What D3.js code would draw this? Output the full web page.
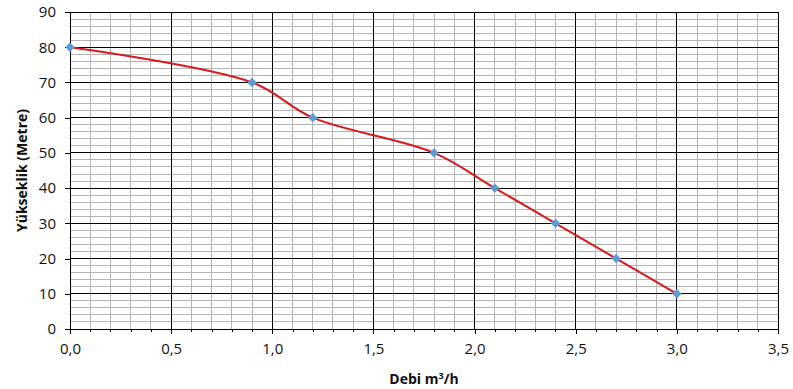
<!DOCTYPE html>
<html>
<head>
<meta charset="utf-8">
<script src="https://cdn.jsdelivr.net/npm/d3@7"></script>
<style>
  body { margin: 0; background: #fff; }
  text { font-family: "Open Sans", "Liberation Sans", sans-serif; }
</style>
</head>
<body>
<div id="wrapper"></div>
<script>
const debi = [0, 0.9, 1.2, 1.8, 2.1, 2.4, 2.7, 3.0];
const yukseklik = [80, 70, 60, 50, 40, 30, 20, 10];
const xTicks = [0, 0.5, 1.0, 1.5, 2.0, 2.5, 3.0, 3.5];
const yTicks = [0, 10, 20, 30, 40, 50, 60, 70, 80, 90];

const dimensions = {
    width: 793,
    height: 389,
    margin: { top: 12, right: 15, bottom: 60, left: 70 }
};
dimensions.boundedWidth = dimensions.width - dimensions.margin.left - dimensions.margin.right;
dimensions.boundedHeight = dimensions.height - dimensions.margin.top - dimensions.margin.bottom;

const svg = d3.select("#wrapper").append("svg")
    .attr("width", dimensions.width)
    .attr("height", dimensions.height);

const bounds = svg.append("g")
    .attr("transform", `translate(${dimensions.margin.left},${dimensions.margin.top})`);

const xScale = d3.scaleLinear().domain([0, 3.5]).range([0, dimensions.boundedWidth]);
const yScale = d3.scaleLinear().domain([0, 90]).range([dimensions.boundedHeight, 0]);

const fmt = d => d3.format(".1f")(d).replace(".", ",");

// minor grid
const xMinor = d3.range(0, 3.5001, 0.1);
const yMinor = d3.range(0, 90.001, 2);
bounds.append("g").selectAll("line").data(xMinor).join("line")
    .attr("x1", d => xScale(d)).attr("x2", d => xScale(d))
    .attr("y1", 0).attr("y2", dimensions.boundedHeight)
    .attr("stroke", "#b4b4b4").attr("stroke-width", 1).attr("shape-rendering", "crispEdges");
bounds.append("g").selectAll("line").data(yMinor).join("line")
    .attr("y1", d => yScale(d)).attr("y2", d => yScale(d))
    .attr("x1", 0).attr("x2", dimensions.boundedWidth)
    .attr("stroke", "#b4b4b4").attr("stroke-width", 1).attr("shape-rendering", "crispEdges");

// major grid
bounds.append("g").selectAll("line").data(xTicks).join("line")
    .attr("x1", d => xScale(d)).attr("x2", d => xScale(d))
    .attr("y1", 0).attr("y2", dimensions.boundedHeight)
    .attr("stroke", "#000").attr("stroke-width", 1).attr("shape-rendering", "crispEdges");
bounds.append("g").selectAll("line").data(yTicks).join("line")
    .attr("y1", d => yScale(d)).attr("y2", d => yScale(d))
    .attr("x1", 0).attr("x2", dimensions.boundedWidth)
    .attr("stroke", "#000").attr("stroke-width", 1).attr("shape-rendering", "crispEdges");

// axes
const xAxis = bounds.append("g")
    .attr("transform", `translate(0,${dimensions.boundedHeight})`)
    .call(d3.axisBottom(xScale).tickValues(xTicks).tickFormat(fmt).tickSize(5).tickPadding(9));
bounds.append("g")
    .attr("transform", `translate(0,${dimensions.boundedHeight})`)
    .call(d3.axisBottom(xScale).tickValues(xMinor).tickFormat("").tickSize(3))
    .select(".domain").remove();
const yAxis = bounds.append("g")
    .call(d3.axisLeft(yScale).tickValues(yTicks).tickSize(5).tickPadding(9));

[xAxis, yAxis].forEach(a => {
    a.select(".domain").attr("stroke", "#000");
    a.selectAll("text").attr("font-size", 15).attr("fill", "#111");
});
bounds.selectAll(".tick line").attr("stroke", "#000").attr("shape-rendering", "crispEdges");

// curve
const points = debi.map((d, i) => [d, yukseklik[i]]);
const line = d3.line()
    .x(d => xScale(d[0]))
    .y(d => yScale(d[1]))
    .curve(d3.curveCatmullRom.alpha(0.5));

bounds.append("path")
    .datum(points)
    .attr("d", line)
    .attr("fill", "none")
    .attr("stroke", "#d9191b")
    .attr("stroke-width", 2);

bounds.append("g").selectAll("path").data(points).join("path")
    .attr("transform", d => `translate(${xScale(d[0])},${yScale(d[1])}) rotate(45)`)
    .attr("d", d3.symbol(d3.symbolSquare, 44)())
    .attr("fill", "#5b9bd5");

// titles
svg.append("text")
    .attr("x", dimensions.margin.left + dimensions.boundedWidth / 2)
    .attr("y", 384)
    .attr("text-anchor", "middle")
    .attr("font-size", 14)
    .attr("font-weight", "bold")
    .attr("fill", "#111")
    .html('Debi m<tspan dy="-5" font-size="9">3</tspan><tspan dy="5">/h</tspan>');

svg.append("text")
    .attr("transform", `translate(27,${dimensions.margin.top + dimensions.boundedHeight / 2}) rotate(-90)`)
    .attr("text-anchor", "middle")
    .attr("font-size", 14)
    .attr("font-weight", "bold")
    .attr("fill", "#111")
    .text("Yükseklik (Metre)");
</script>
</body>
</html>
